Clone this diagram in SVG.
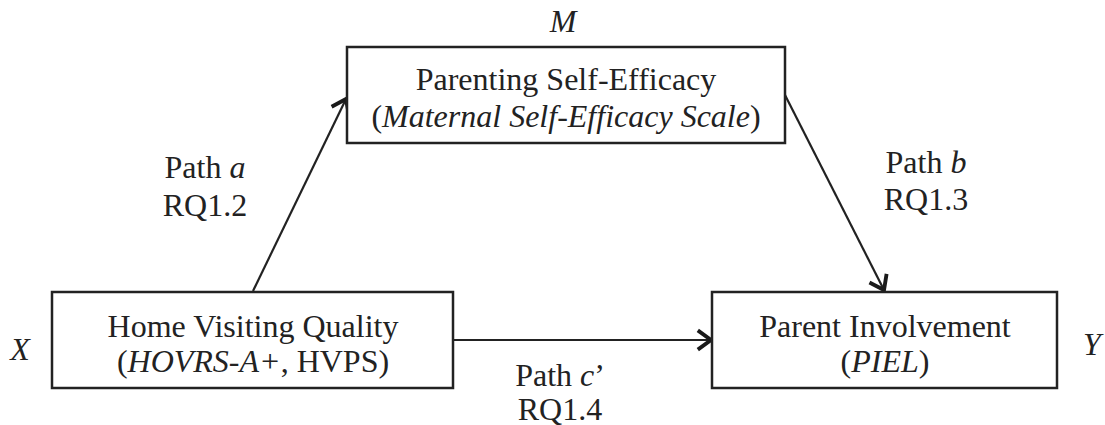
<svg xmlns="http://www.w3.org/2000/svg" width="1105" height="425" viewBox="0 0 1105 425">
<style>
text{font-family:"Liberation Serif","Times New Roman",serif;font-size:32px;fill:#222;text-anchor:middle}
.i{font-style:italic}
.box{fill:#fff;stroke:#222;stroke-width:2.5}
.edge{fill:none;stroke:#222;stroke-width:2.2}
</style>
<defs>
<marker id="arr" markerUnits="userSpaceOnUse" markerWidth="24" markerHeight="24" refX="14" refY="10" orient="auto" viewBox="0 0 20 20">
<path d="M3,2 L14,10 L3,18" fill="none" stroke="#1a1a1a" stroke-width="3.2" stroke-linejoin="miter"/>
</marker>
</defs>
<g id="connectors">
<line class="edge" x1="253" y1="291" x2="346" y2="99" marker-end="url(#arr)"/>
<line class="edge" x1="785" y1="95" x2="884" y2="290" marker-end="url(#arr)"/>
<line class="edge" x1="453" y1="340" x2="711" y2="340" marker-end="url(#arr)"/>
</g>
<g id="node-M">
<rect class="box" x="347" y="47" width="438" height="96"/>
<text class="i" x="563" y="32">M</text>
<text x="566" y="90">Parenting Self-Efficacy</text>
<text x="566" y="127">(<tspan class="i">Maternal Self-Efficacy Scale</tspan>)</text>
</g>
<g id="node-X">
<rect class="box" x="52" y="292" width="401" height="96"/>
<text class="i" x="20" y="360">X</text>
<text x="253" y="337">Home Visiting Quality</text>
<text x="253" y="372">(<tspan class="i">HOVRS-A+</tspan>, HVPS)</text>
</g>
<g id="node-Y">
<rect class="box" x="712" y="292" width="345" height="96"/>
<text class="i" x="1092" y="355">Y</text>
<text x="885" y="337">Parent Involvement</text>
<text x="885" y="372">(<tspan class="i">PIEL</tspan>)</text>
</g>
<g id="labels">
<text x="205" y="178">Path <tspan class="i">a</tspan></text>
<text x="205" y="216">RQ1.2</text>
<text x="926" y="173">Path <tspan class="i">b</tspan></text>
<text x="926" y="210">RQ1.3</text>
<text x="560" y="386">Path <tspan class="i">c</tspan>’</text>
<text x="560" y="420">RQ1.4</text>
</g>
</svg>
